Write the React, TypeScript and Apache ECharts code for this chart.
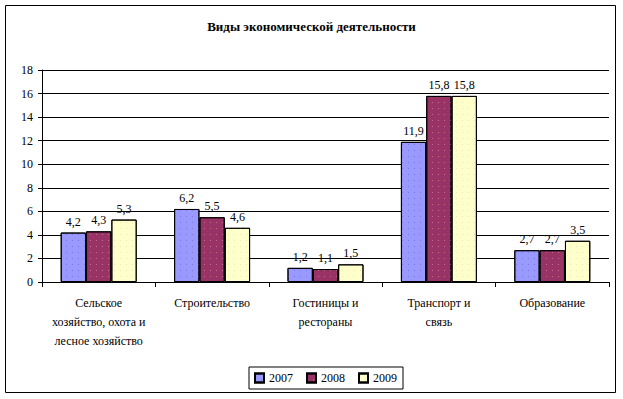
import React, { useEffect, useRef } from "react";
import * as echarts from "echarts";

const categories = [
  "Сельское\nхозяйство, охота и\nлесное хозяйство",
  "Строительство",
  "Гостиницы и\nрестораны",
  "Транспорт и\nсвязь",
  "Образование",
];
const years = ["2007", "2008", "2009"];
const values2007 = [4.2, 6.2, 1.2, 11.9, 2.7];
const values2008 = [4.3, 5.5, 1.1, 15.8, 2.7];
const values2009 = [5.3, 4.6, 1.5, 15.8, 3.5];
const yTicks = [0, 2, 4, 6, 8, 10, 12, 14, 16, 18];

const colors = ["#9999FF", "#993366", "#FFFFCC"];
const dotColors = ["#7777dd", "#c07090", "#e8e8b0"];
const FONT = "Times New Roman, Liberation Serif, DejaVu Serif, serif";

export default function App() {
  const ref = useRef<HTMLDivElement>(null);
  useEffect(() => {
    if (!ref.current) return;
    const chart = echarts.init(ref.current, null, { renderer: "svg" });
    const seriesData = [values2007, values2008, values2009];
    chart.setOption({
      animation: false,
      backgroundColor: "#fff",
      textStyle: { fontFamily: FONT },
      title: {
        text: "Виды экономической деятельности",
        left: "center",
        top: 15,
        textStyle: { fontFamily: FONT, fontSize: 13, fontWeight: "bold", color: "#000" },
      },
      graphic: [
        {
          type: "rect",
          shape: { x: 5.5, y: 5.5, width: 610, height: 387 },
          style: { fill: "none", stroke: "#000", lineWidth: 1 },
          silent: true,
          z: -1,
        },
      ],
      legend: {
        data: years,
        left: 249,
        top: 367,
        itemWidth: 9,
        itemHeight: 9,
        itemGap: 13,
        padding: [5, 6, 5, 5],
        borderColor: "#000",
        borderWidth: 1,
        icon: "rect",
        textStyle: { fontFamily: FONT, fontSize: 12, color: "#000" },
      },
      grid: { left: 42, right: 14, top: 70, bottom: 117, containLabel: false },
      xAxis: {
        type: "category",
        data: categories,
        axisLine: { lineStyle: { color: "#000", width: 1 } },
        axisTick: { show: true, length: 5, lineStyle: { color: "#000" } },
        axisLabel: {
          fontFamily: FONT,
          fontSize: 12,
          color: "#000",
          lineHeight: 19,
          margin: 11,
          interval: 0,
        },
      },
      yAxis: {
        type: "value",
        min: 0,
        max: yTicks[yTicks.length - 1],
        interval: 2,
        axisLine: { show: true, lineStyle: { color: "#000" } },
        axisTick: { show: true, length: 4, lineStyle: { color: "#000" } },
        splitLine: { lineStyle: { color: "#000", width: 1 } },
        axisLabel: { fontFamily: FONT, fontSize: 12, color: "#000", margin: 9 },
      },
      series: years.map((y, i) => ({
        name: y,
        type: "bar",
        data: seriesData[i],
        barGap: "0%",
        barCategoryGap: "33%",
        itemStyle: {
          color: colors[i],
          borderColor: "#000",
          borderWidth: 1,
          decal: {
            symbol: "rect",
            symbolSize: 1,
            dashArrayX: [1, 5],
            dashArrayY: [1, 5],
            color: dotColors[i],
          },
        },
        label: {
          show: true,
          position: "top",
          distance: 5,
          fontFamily: FONT,
          fontSize: 12,
          color: "#000",
          formatter: (p: any) => String(p.value).replace(".", ","),
        },
      })),
    });
    return () => chart.dispose();
  }, []);
  return <div ref={ref} style={{ width: 623, height: 399, position: "absolute", left: 0, top: 0 }} />;
}
